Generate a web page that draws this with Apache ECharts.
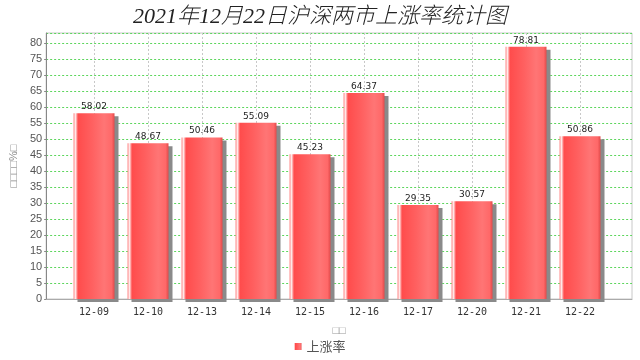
<!DOCTYPE html>
<html><head><meta charset="utf-8">
<script src="https://cdn.jsdelivr.net/npm/echarts@6/dist/echarts.min.js"></script>
<style>html,body{margin:0;padding:0;background:#fff}#c{width:640px;height:360px}</style>
</head><body><div id="c"></div>
<script>
const titleText = '2021年12月22日沪深两市上涨率统计图';
const categories = ['12-09','12-10','12-13','12-14','12-15','12-16','12-17','12-20','12-21','12-22'];
const values = [58.02, 48.67, 50.46, 55.09, 45.23, 64.37, 29.35, 30.57, 78.81, 50.86];
const seriesName = '上涨率';
const yName = '□□□□%□';
const xName = '□□';
const yMin = 0, yMax = 83.1, yStep = 5;

const chart = echarts.init(document.getElementById('c'), null, {renderer:'canvas'});
const barGrad = new echarts.graphic.LinearGradient(0,0,1,0,[
  {offset:0, color:'#ff8a8a'},
  {offset:0.05, color:'#ffeaea'},
  {offset:0.11, color:'#ff4c4c'},
  {offset:0.45, color:'#ff6060'},
  {offset:0.75, color:'#ff7575'},
  {offset:0.93, color:'#ff6868'},
  {offset:1, color:'#e04a4a'}
]);
chart.setOption({
  animation:false,
  backgroundColor:'#fff',
  title:{text:titleText,left:'center',top:1,textStyle:{fontFamily:'Liberation Serif, Noto Sans CJK SC',fontStyle:'italic',fontWeight:300,fontSize:22,color:'#222'}},
  legend:{data:[seriesName],bottom:2,left:'center',icon:'rect',itemWidth:7,itemHeight:7,itemGap:4,
    textStyle:{fontFamily:'Noto Sans CJK SC',fontSize:13,color:'#555'}},
  grid:[
    {left:43,right:8,top:33,bottom:61,show:true,borderColor:'#c8c8c8',borderWidth:1,backgroundColor:'#fff'},
    {left:67,right:33,top:33,bottom:61},
    {left:94,right:60,top:33,bottom:61}
  ],
  xAxis:[
    {gridIndex:0,type:'category',data:categories,name:xName,nameLocation:'middle',nameGap:26,
      nameTextStyle:{color:'#999',fontSize:11},
      axisLine:{show:true,lineStyle:{color:'#aaa'}},axisTick:{show:false},axisLabel:{show:false},splitLine:{show:false}},
    {gridIndex:1,type:'category',data:categories,boundaryGap:true,
      axisLine:{show:false},axisTick:{show:true,alignWithLabel:true,length:3,lineStyle:{color:'#999'}},
      axisLabel:{color:'#333',fontSize:10,fontFamily:'DejaVu Sans Mono',margin:8},splitLine:{show:false}},
    {gridIndex:2,type:'category',data:categories,boundaryGap:false,
      axisLine:{show:false},axisTick:{show:false},axisLabel:{show:false},
      splitLine:{show:true,lineStyle:{color:'#c8c8c8',type:[2,2],width:1}}}
  ],
  yAxis:[
    {gridIndex:0,type:'value',min:yMin,max:yMax,interval:yStep,name:yName,nameLocation:'middle',nameGap:26,
      nameTextStyle:{color:'#888',fontSize:11},
      axisLine:{show:true,lineStyle:{color:'#888'}},axisTick:{show:true,length:2,lineStyle:{color:'#888'}},
      axisLabel:{color:'#555',fontSize:11,margin:4,formatter:v=> (v%5===0? String(v):''),showMaxLabel:false},
      splitLine:{show:true,lineStyle:{color:'#5cd65c',type:[2,2],width:1}}},
    {gridIndex:1,type:'value',min:yMin,max:yMax,show:false},
    {gridIndex:2,type:'value',min:yMin,max:yMax,show:false}
  ],
  series:[
    {name:seriesName,type:'bar',xAxisIndex:1,yAxisIndex:1,data:values,barWidth:41,z:5,
      itemStyle:{color:barGrad,shadowColor:'#8a8a8a',shadowOffsetX:4,shadowOffsetY:3,shadowBlur:0},
      label:{show:true,position:'top',distance:2,fontSize:9,color:'#222',fontFamily:'DejaVu Sans'}}
  ],
  color:['#ff5555']
});
</script></body></html>
